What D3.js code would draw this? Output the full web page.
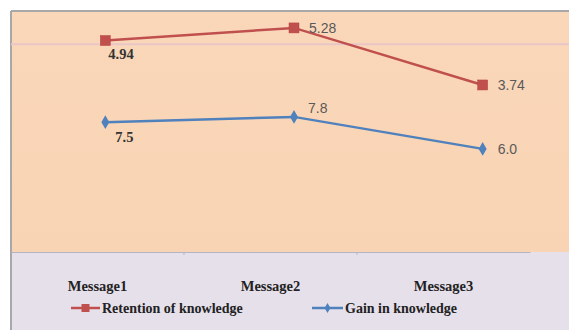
<!DOCTYPE html>
<html>
<head>
<meta charset="utf-8">
<script src="https://cdn.jsdelivr.net/npm/d3@7"></script>
<style>
  html, body { margin: 0; padding: 0; background: #ffffff; }
  svg { display: block; }
</style>
</head>
<body>
<svg id="chart" width="569" height="330"></svg>
<script>
// ---- data ----
const categories = ["Message1", "Message2", "Message3"];
const retention = [4.94, 5.28, 3.74];
const gain = [7.5, 7.8, 6.0];
const retentionLabels = ["4.94", "5.28", "3.74"];
const gainLabels = ["7.5", "7.8", "6.0"];
const seriesNames = ["Retention of knowledge", "Gain in knowledge"];

// ---- layout ----
const W = 569, H = 330;
const frameLeft = 11, frameTop = 11;
const plotTop = 12, plotBottom = 252;
const svg = d3.select("#chart");

// backgrounds
svg.append("rect").attr("x", frameLeft).attr("y", frameTop).attr("width", W - frameLeft).attr("height", H - frameTop).attr("fill", "#e6e0eb");
const grad = svg.append("defs").append("linearGradient").attr("id", "peach").attr("x1", 0).attr("y1", 0).attr("x2", 0).attr("y2", 1);
grad.append("stop").attr("offset", "0%").attr("stop-color", "#fbd7ba");
grad.append("stop").attr("offset", "100%").attr("stop-color", "#f8d4b4");
svg.append("rect").attr("x", frameLeft).attr("y", plotTop).attr("width", W - frameLeft).attr("height", plotBottom - plotTop).attr("fill", "url(#peach)");

// frame lines
svg.append("line").attr("x1", frameLeft).attr("x2", W).attr("y1", frameTop).attr("y2", frameTop).attr("stroke", "#a8a8a8").attr("stroke-width", 2);
svg.append("line").attr("x1", frameLeft).attr("x2", frameLeft).attr("y1", frameTop).attr("y2", H).attr("stroke", "#a8a8a8").attr("stroke-width", 2);

// scales
const xMarks = d3.scaleBand().domain(categories).range([frameLeft, 577]);
const xAxisScale = d3.scaleBand().domain(categories).range([frameLeft, 530]);
const yRet = d3.scaleLinear().domain([-0.77, 5.71]).range([plotBottom, plotTop]);
const yGain = d3.scaleLinear().domain([0.2, 13.7]).range([plotBottom, plotTop]);
const cx = c => xMarks(c) + xMarks.bandwidth() / 2;

// gridline
svg.append("line").attr("x1", frameLeft).attr("x2", W).attr("y1", yRet(4.84)).attr("y2", yRet(4.84))
  .attr("stroke", "#e8c6c8").attr("stroke-width", 2);

// x axis
const xAxis = d3.axisBottom(xAxisScale).tickSize(0).tickPadding(0);
const axisG = svg.append("g").attr("transform", `translate(0,${plotBottom})`).call(xAxis);
axisG.select(".domain").attr("stroke", "#b5b3c8").attr("stroke-width", 1);
axisG.selectAll(".tick text")
  .attr("y", 29)
  .attr("font-family", "'Liberation Serif', 'Times New Roman', serif")
  .attr("font-weight", "bold")
  .attr("font-size", 14.5)
  .attr("fill", "#222");
// small tick marks at category boundaries
svg.selectAll(".btick").data(categories.slice(1)).enter().append("line")
  .attr("x1", d => xAxisScale(d)).attr("x2", d => xAxisScale(d))
  .attr("y1", plotBottom).attr("y2", plotBottom + 3)
  .attr("stroke", "#b5b3c8");

const red = "#c0504d", blue = "#4f81bd";

// lines
const lineRet = d3.line().x((d, i) => cx(categories[i])).y(d => yRet(d));
const lineGain = d3.line().x((d, i) => cx(categories[i])).y(d => yGain(d));
svg.append("path").datum(retention).attr("d", lineRet).attr("fill", "none").attr("stroke", red).attr("stroke-width", 2.5);
svg.append("path").datum(gain).attr("d", lineGain).attr("fill", "none").attr("stroke", blue).attr("stroke-width", 2.5);

// markers
svg.selectAll(".mret").data(retention).enter().append("rect")
  .attr("x", (d, i) => cx(categories[i]) - 5).attr("y", d => yRet(d) - 5)
  .attr("width", 10).attr("height", 10).attr("fill", red).attr("stroke", "#b8443f").attr("stroke-width", 0.5);
const diamond = d3.symbol().type(d3.symbolDiamond).size(55);
svg.selectAll(".mgain").data(gain).enter().append("path")
  .attr("d", diamond)
  .attr("transform", (d, i) => `translate(${cx(categories[i])},${yGain(d)})`)
  .attr("fill", blue);

// data labels
function labelStyle(sel, i) {
  if (i === 0) {
    sel.attr("font-family", "'Liberation Serif', serif").attr("font-weight", "bold").attr("font-size", 14.5).attr("fill", "#333");
  } else {
    sel.attr("font-family", "'Liberation Sans', Arial, sans-serif").attr("font-size", 14).attr("fill", "#595959");
  }
}
retention.forEach((v, i) => {
  const t = svg.append("text").text(retentionLabels[i]);
  if (i === 0) t.attr("x", cx(categories[i]) + 3).attr("y", yRet(v) + 18);
  else t.attr("x", cx(categories[i]) + 15).attr("y", yRet(v) + 5);
  labelStyle(t, i);
});
gain.forEach((v, i) => {
  const t = svg.append("text").text(gainLabels[i]);
  if (i === 0) t.attr("x", cx(categories[i]) + 10).attr("y", yGain(v) + 20);
  else if (i === 1) t.attr("x", cx(categories[i]) + 14).attr("y", yGain(v) - 4);
  else t.attr("x", cx(categories[i]) + 15).attr("y", yGain(v) + 5);
  labelStyle(t, i);
});

// legend
const legY = 308;
const legendItems = [
  { name: seriesNames[0], color: red, x: 71, textX: 102, shape: "square" },
  { name: seriesNames[1], color: blue, x: 312, textX: 345, shape: "diamond" }
];
legendItems.forEach(it => {
  svg.append("line").attr("x1", it.x).attr("x2", it.textX - 2).attr("y1", legY).attr("y2", legY)
    .attr("stroke", it.color).attr("stroke-width", 2.5);
  const mx = (it.x + it.textX - 2) / 2;
  if (it.shape === "square") {
    svg.append("rect").attr("x", mx - 4).attr("y", legY - 4).attr("width", 8).attr("height", 8).attr("fill", it.color);
  } else {
    svg.append("path").attr("d", d3.symbol().type(d3.symbolDiamond).size(30)).attr("transform", `translate(${mx},${legY})`).attr("fill", it.color);
  }
  svg.append("text").text(it.name).attr("x", it.textX).attr("y", legY + 5)
    .attr("font-family", "'Liberation Serif', 'Times New Roman', serif")
    .attr("font-weight", "bold").attr("font-size", 14).attr("fill", "#222");
});
</script>
</body>
</html>
